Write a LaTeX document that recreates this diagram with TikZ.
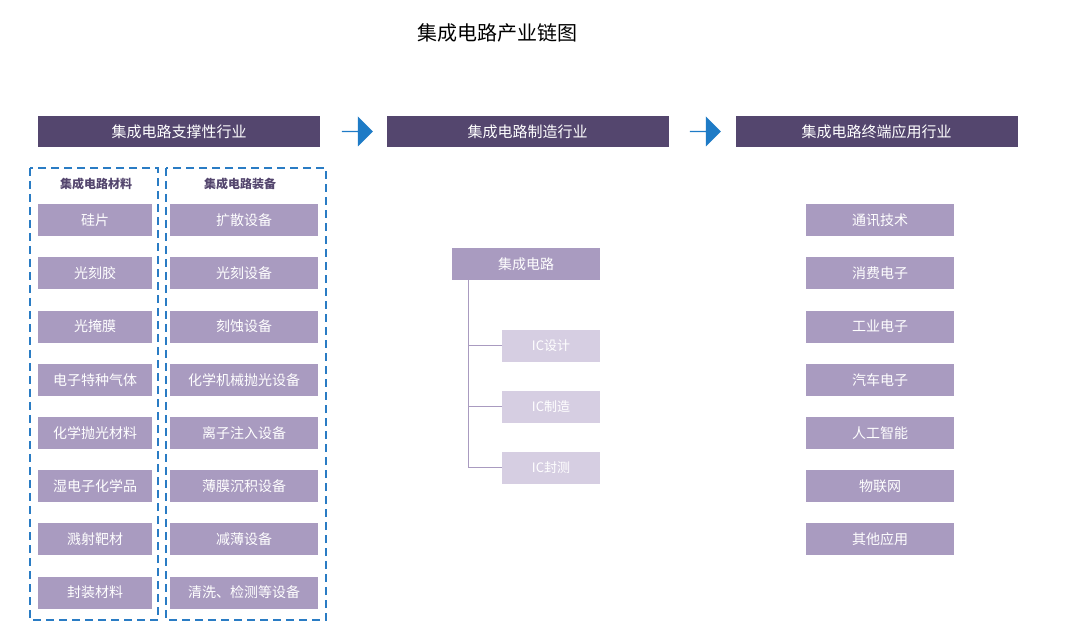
\documentclass[tikz,border=0pt]{standalone}
\usepackage{fontspec}
\setmainfont{Liberation Serif}
\newfontfamily\cjk{Noto Sans CJK SC}
\usetikzlibrary{shapes.arrows}
\definecolor{hdr}{HTML}{54466E}
\definecolor{itm}{HTML}{A99BC0}
\definecolor{icb}{HTML}{D6CEE2}
\definecolor{arw}{HTML}{1E7BC6}
\definecolor{dash}{HTML}{2A7CC4}
\begin{document}
\begin{tikzpicture}[x=1pt,y=-1pt,
 hdrs/.style={fill=hdr,text=white,minimum width=282pt,minimum height=31pt,inner sep=0pt,font=\cjk\fontsize{15}{15}\selectfont},
 item/.style={fill=itm,text=white,minimum height=32pt,inner sep=0pt,font=\cjk\fontsize{14}{14}\selectfont},
 icx/.style={fill=icb,text=white,minimum width=98pt,minimum height=32pt,inner sep=0pt,font=\cjk\fontsize{13}{13}\selectfont},
 dbox/.style={draw=dash,dashed,line width=1.8pt,dash pattern=on 8pt off 5pt},
 arr/.style={single arrow,fill=arw,minimum height=31pt,minimum width=30pt,single arrow head extend=4pt,inner sep=0pt},
 lab/.style={text=hdr,font=\cjk\bfseries\fontsize{12}{12}\selectfont}]
\useasboundingbox (0,0) rectangle (1080,644);
\node[font=\cjk\fontsize{20}{20}\selectfont] (title) at (497,33) {集成电路产业链图};
\node[hdrs] (h1) at (179,131.5) {集成电路支撑性行业};
\node[hdrs] (h2) at (527.5,131.5) {集成电路制造行业};
\node[hdrs] (h3) at (876.5,131.5) {集成电路终端应用行业};
\node[arr] (a1) at (357,131.5) {};
\node[arr] (a2) at (705,131.5) {};
\draw[dbox] (30,168) rectangle (158,620);
\draw[dbox] (166,168) rectangle (326,620);
\node[lab] (l1) at (96,184) {集成电路材料};
\node[lab] (l2) at (240,184) {集成电路装备};
\foreach \t [count=\i] in {硅片,光刻胶,光掩膜,电子特种气体,化学抛光材料,湿电子化学品,溅射靶材,封装材料}
 \node[item,minimum width=114pt] (m\i) at (95,167+53.2*\i) {\t};
\foreach \t [count=\i] in {扩散设备,光刻设备,刻蚀设备,化学机械抛光设备,离子注入设备,薄膜沉积设备,减薄设备,清洗、检测等设备}
 \node[item,minimum width=148pt] (e\i) at (244,167+53.2*\i) {\t};
\foreach \t [count=\i] in {通讯技术,消费电子,工业电子,汽车电子,人工智能,物联网,其他应用}
 \node[item,minimum width=148pt] (r\i) at (880,167+53.2*\i) {\t};
\node[item,minimum width=148pt,font=\cjk\fontsize{14}{14}\selectfont] (ic) at (526,264) {集成电路};
\node[icx] (c1) at (551,346) {IC设计};
\node[icx] (c2) at (551,407) {IC制造};
\node[icx] (c3) at (551,468) {IC封测};
\coordinate (top) at (468,280);
\draw[itm,line width=1pt] (top) -- (468,468) -- (c3.west);
\draw[itm,line width=1pt] (468,346) -- (c1.west);
\draw[itm,line width=1pt] (468,407) -- (c2.west);
\end{tikzpicture}
\end{document}
